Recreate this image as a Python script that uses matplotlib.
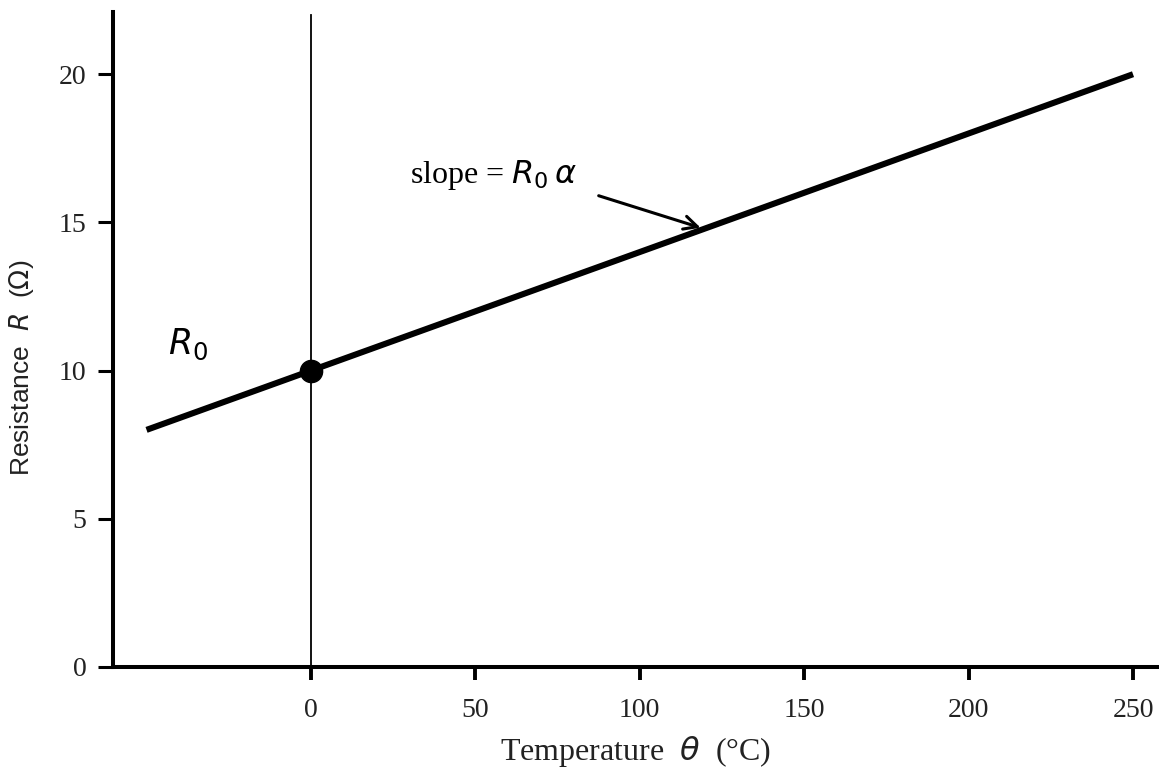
import matplotlib
matplotlib.use("Agg")
import matplotlib.pyplot as plt
import numpy as np

# resistance R = R0 (1 + alpha * theta)
R0 = 10.0
alpha = 0.004
theta = np.array([-50, 250])
resistance = R0 * (1 + alpha * theta)

x_ticks = [0, 50, 100, 150, 200, 250]
y_ticks = [0, 5, 10, 15, 20]

serif = ["Liberation Serif", "DejaVu Serif"]
sans = ["Liberation Sans", "DejaVu Sans"]

fig = plt.figure(figsize=(11.59, 7.67), dpi=100)
ax = fig.add_axes([0.0975, 0.1304, 0.9025, 0.854])

ax.plot(theta, resistance, color="black", lw=4.4, solid_capstyle="butt", zorder=3)
ax.axvline(0, color="black", lw=1.3, ymin=0, ymax=0.995, zorder=2)
ax.plot([0], [R0], "o", color="black", markersize=16, zorder=4)

ax.set_xlim(-60.2, 257.9)
ax.set_ylim(0, 22.1)
ax.set_xticks(x_ticks)
ax.set_yticks(y_ticks)

for side in ["top", "right"]:
    ax.spines[side].set_visible(False)
for side in ["left", "bottom"]:
    ax.spines[side].set_linewidth(2.9)

ax.tick_params(axis="x", direction="out", length=9, width=2.8, pad=13,
               labelsize=20, labelcolor="#222222")
ax.tick_params(axis="y", direction="out", length=11, width=2.2, pad=8,
               labelsize=20, labelcolor="#222222")
for lab in ax.get_xticklabels() + ax.get_yticklabels():
    lab.set_fontfamily(serif)

ax.set_xlabel(r"Temperature  $\theta$  (°C)", fontsize=23, family=serif,
              color="#222222", labelpad=8)
ax.set_ylabel(r"Resistance  $R$  ($\Omega$)", fontsize=19, family=sans,
              color="#222222")
ax.yaxis.set_label_coords(-0.0736, 0.456)

ax.text(-43.5, 10.9, r"$R_0$", fontsize=25, ha="left", va="center")
ax.text(30, 16.6, r"slope = $R_0\,\alpha$", fontsize=23, family=serif,
        ha="left", va="center")
ax.annotate("", xy=(118.5, 14.82), xytext=(87.5, 15.9),
            arrowprops=dict(arrowstyle="->", color="black", lw=2.2,
                            mutation_scale=24, shrinkA=0, shrinkB=0))

fig.savefig("out.png", dpi=100)
